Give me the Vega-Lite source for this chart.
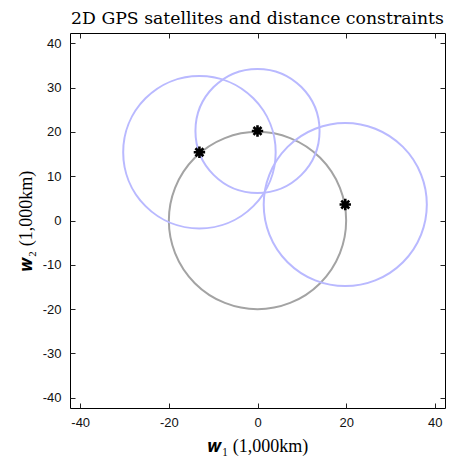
{
  "$schema": "https://vega.github.io/schema/vega-lite/v6.json",
  "width": 375,
  "height": 375,
  "autosize": {"type": "none"},
  "padding": {"left": 70, "top": 33, "right": 4, "bottom": 51},
  "background": "white",
  "title": {
    "text": "2D GPS satellites and distance constraints",
    "font": "DejaVu Serif",
    "fontSize": 17.3,
    "fontWeight": "normal",
    "color": "black",
    "anchor": "middle",
    "baseline": "alphabetic",
    "offset": 11,
    "dy": 20
  },
  "config": {
    "view": {"stroke": "black", "strokeWidth": 1},
    "axis": {
      "grid": false,
      "domain": false,
      "tickSize": -5,
      "tickColor": "#222222",
      "tickWidth": 1,
      "labelFont": "Liberation Sans",
      "labelFontSize": 13,
      "labelColor": "#111111",
      "labelExpr": "toString(datum.value)",
      "titleFont": "Liberation Serif",
      "titleFontSize": 18,
      "titleFontWeight": "normal",
      "titleColor": "black"
    }
  },
  "datasets": {
    "circles": [
      {"x": 0, "y": 0, "r": 20, "kind": "earth"},
      {"x": -13.1, "y": 15.4, "r": 17.2, "kind": "range"},
      {"x": 0, "y": 20.2, "r": 14, "kind": "range"},
      {"x": 19.8, "y": 3.6, "r": 18.4, "kind": "range"}
    ],
    "sats": [
      {"x": -13.1, "y": 15.4},
      {"x": 0, "y": 20.2},
      {"x": 19.8, "y": 3.6}
    ]
  },
  "layer": [
    {
      "data": {"name": "circles"},
      "mark": {"type": "point", "shape": "circle", "filled": false, "strokeWidth": 2, "opacity": 1},
      "encoding": {
        "x": {
          "field": "x", "type": "quantitative",
          "scale": {"domain": [-42.3, 42.3], "nice": false, "zero": false},
          "axis": {"orient": "bottom", "values": [-40, -20, 0, 20, 40], "labelPadding": 13,
                   "title": "𝒘₁ (1,000km)", "titleX": 187.5, "titleY": 43, "titleBaseline": "alphabetic", "titleAlign": "center"}
        },
        "y": {
          "field": "y", "type": "quantitative",
          "scale": {"domain": [-42.3, 42.3], "nice": false, "zero": false},
          "axis": {"orient": "left", "values": [-40, -30, -20, -10, 0, 10, 20, 30, 40], "labelPadding": 14,
                   "title": "𝒘₂ (1,000km)", "titleX": -44, "titleY": 187.5, "titleAngle": -90, "titleBaseline": "middle", "titleAlign": "center"}
        },
        "size": {
          "field": "r", "type": "quantitative",
          "scale": {"type": "pow", "exponent": 2, "domain": [0, 42.3], "range": [0, 140625], "zero": true},
          "legend": null
        },
        "color": {
          "field": "kind", "type": "nominal",
          "scale": {"domain": ["earth", "range"], "range": ["#a3a3a3", "#b9b9ff"]},
          "legend": null
        },
        "order": {"field": "kind", "sort": "ascending"}
      }
    },
    {
      "data": {"name": "sats"},
      "mark": {
        "type": "point",
        "shape": "M0,-1L0,1M-1,0L1,0M-0.7,-0.7L0.7,0.7M-0.7,0.7L0.7,-0.7",
        "filled": false,
        "stroke": "black",
        "strokeWidth": 2.6,
        "size": 130,
        "opacity": 1
      },
      "encoding": {
        "x": {"field": "x", "type": "quantitative",
              "axis": {"orient": "top", "values": [-40, -20, 0, 20, 40], "labels": false, "title": null}},
        "y": {"field": "y", "type": "quantitative",
              "axis": {"orient": "right", "values": [-40, -30, -20, -10, 0, 10, 20, 30, 40], "labels": false, "title": null}}
      }
    }
  ]
}
